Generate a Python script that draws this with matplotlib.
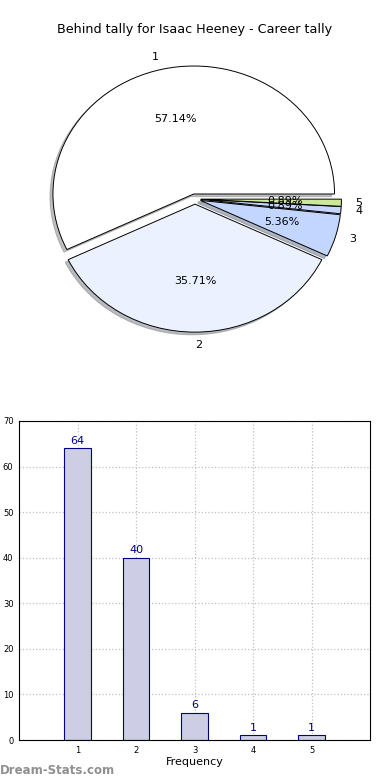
import matplotlib
matplotlib.use("Agg")
import matplotlib.pyplot as plt

title = "Behind tally for Isaac Heeney - Career tally"
categories = [1, 2, 3, 4, 5]
counts = [64, 40, 6, 1, 1]
slice_colors = ['#ffffff', '#ebf1ff', '#c2d6ff', '#c6d6ff', '#cce89a']

fig = plt.figure(figsize=(3.9, 7.8), dpi=100)

# pie on top
ax1 = fig.add_axes([19/390, 1 - 359/780, 352/390, 320/780])
wedges, texts, autotexts = ax1.pie(
    counts, labels=[str(c) for c in categories], colors=slice_colors,
    explode=[0.04] * len(counts), autopct='%.2f%%',
    shadow={'ox': -0.015, 'oy': -0.015, 'shade': 0.5},
    startangle=0, labeldistance=1.1, pctdistance=0.6,
    wedgeprops=dict(edgecolor='black', linewidth=0.7),
    textprops=dict(fontsize=8))
ax1.set_aspect('auto')
ax1.set_xlim(-1.25, 1.25)
ax1.set_ylim(-1.25, 1.25)
ax1.axis('off')
fig.text(0.5, 1 - 30/780, title, ha='center', va='center', fontsize=9.2)

# frequency bars below
ax2 = fig.add_axes([19/390, 40/780, 351/390, 319/780])
bars = ax2.bar(categories, counts, width=0.45, color='#cdcde6',
               edgecolor='#000080', linewidth=0.8, zorder=2)
for x, v in zip(categories, counts):
    ax2.text(x, v + 0.6, str(v), ha='center', va='bottom',
             fontsize=8, color='#000080', zorder=3)
ax2.set_xlim(0, 6)
ax2.set_ylim(0, 70)
ax2.set_xticks(categories)
ax2.set_yticks(range(0, 71, 10))
ax2.tick_params(labelsize=6, length=0, pad=4)
ax2.grid(True, linestyle=':', color='#c0c0c0', linewidth=0.9, zorder=0)
ax2.set_axisbelow(True)
ax2.set_xlabel('Frequency', fontsize=8, labelpad=2)

fig.text(0, 1 - 770/780, 'Dream-Stats.com', ha='left', va='center',
         fontsize=8.5, color='#909090', fontweight='bold')

fig.savefig('out.png', dpi=100)
